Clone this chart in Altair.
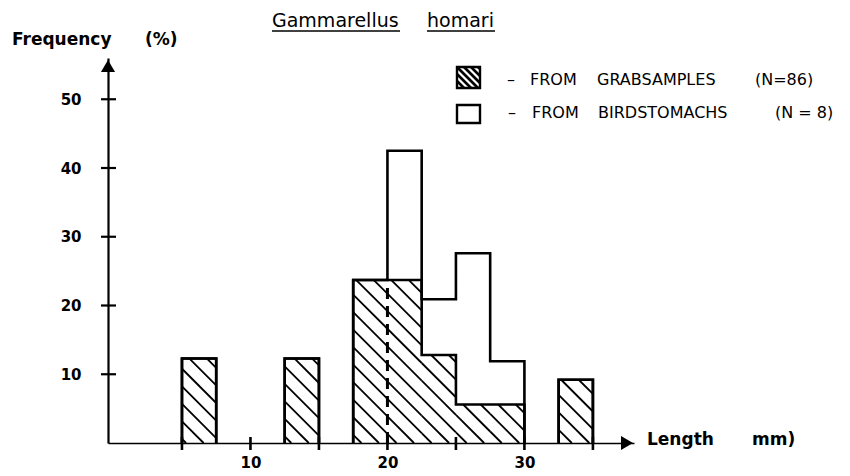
import altair as alt
import pandas as pd
import numpy as np

# ---------------- data ----------------
bin_start = [5.0, 7.5, 10.0, 12.5, 15.0, 17.5, 20.0, 22.5, 25.0, 27.5, 30.0, 32.5]
bin_width = 2.5
grab_pct = [12.3, 0, 0, 12.3, 0, 23.7, 23.7, 12.8, 5.6, 5.6, 0, 9.2]   # from grab samples (N=86)
bird_pct = [0, 0, 0, 0, 0, 0, 42.5, 20.9, 27.6, 11.9, 0, 0]            # from bird stomachs (N=8)
x_tick_values = [5, 10, 15, 20, 25, 30, 35]
x_label_values = [10, 20, 30]
y_tick_values = [10, 20, 30, 40, 50]
dashed_at = 20.0
title_words = ["Gammarellus", "homari"]
y_title_words = ["Frequency", "(%)"]
x_title_words = ["Length", "mm)"]
legend_row1 = ["\u2013", "FROM", "GRABSAMPLES", "(N=86)"]
legend_row2 = ["\u2013", "FROM", "BIRDSTOMACHS", "(N = 8)"]

# ---------------- layout ----------------
W, H = 526, 385
XDOM = [-0.4, 38.0]
YDOM = [0, 56]
ppx = W / (XDOM[1] - XDOM[0])
ppy = H / (YDOM[1] - YDOM[0])
k = ppx / ppy
FONT = "DejaVu Sans"

xs = alt.Scale(domain=XDOM, nice=False, zero=False)
ys = alt.Scale(domain=YDOM, nice=False, zero=False)
xax = alt.Axis(values=x_label_values, ticks=False, labelPadding=12, labelFont=FONT,
               labelFontWeight="bold", labelFontSize=15, labelColor="black",
               domainColor="black", domainWidth=1.6, grid=False, title=None)
yax = alt.Axis(values=y_tick_values, ticks=False, labelPadding=27, labelFont=FONT,
               labelFontWeight="bold", labelFontSize=15, labelColor="black",
               domainColor="black", domainWidth=2.2, grid=False, title=None)


def px_to_x(p):
    return XDOM[0] + p / ppx


def px_to_y(p):
    return YDOM[1] - p / ppy


# outlines as step lines, one group per contiguous run of non-empty bins
def step_rows(vals, name):
    rows = []
    run = []
    runs = []
    for j, v in enumerate(vals):
        if v > 0:
            run.append(j)
        elif run:
            runs.append(run)
            run = []
    if run:
        runs.append(run)
    for r_i, r in enumerate(runs):
        g = f"{name}{r_i}"
        o = 0
        rows.append({"s": g, "o": o, "x": bin_start[r[0]], "v": 0.0})
        for j in r:
            o += 1
            rows.append({"s": g, "o": o, "x": bin_start[j], "v": vals[j]})
        rows.append({"s": g, "o": o + 1, "x": bin_start[r[-1]] + bin_width, "v": 0.0})
    return rows


union = [max(a, b) for a, b in zip(grab_pct, bird_pct)]
outline_df = pd.DataFrame(step_rows(union, "all") + step_rows(grab_pct, "grab"))

# hatch segments clipped to the grab bars
spacing = 1.28
c_grid = 21.94 + spacing * np.arange(-25, 20)
segs = []
for x0, h in zip(bin_start, grab_pct):
    if h <= 0:
        continue
    x1 = x0 + bin_width
    for c in c_grid:
        ylo = max(0.0, k * (c - x1))
        yhi = min(h, k * (c - x0))
        if yhi - ylo > 1e-6:
            segs.append({"xa": c - ylo / k, "ya": ylo, "xb": c - yhi / k, "yb": yhi})
hatch_df = pd.DataFrame(segs)

outline = alt.Chart(outline_df).mark_line(interpolate="step-after", color="black",
                                          strokeWidth=2.6, strokeJoin="miter").encode(
    x=alt.X("x:Q", scale=xs, axis=xax),
    y=alt.Y("v:Q", scale=ys, axis=yax),
    detail="s:N",
    order="o:Q",
)

hatch = alt.Chart(hatch_df).mark_rule(color="black", strokeWidth=1.8).encode(
    x=alt.X("xa:Q", scale=xs, axis=xax), x2="xb:Q",
    y=alt.Y("ya:Q", scale=ys, axis=yax), y2="yb:Q",
)

dash_h = grab_pct[bin_start.index(dashed_at)]
dash = alt.Chart(pd.DataFrame({"x": [dashed_at], "y0": [0.0], "y1": [dash_h]})).mark_rule(
    color="black", strokeWidth=3, strokeDash=[11, 7]).encode(
    x=alt.X("x:Q", scale=xs, axis=xax),
    y=alt.Y("y0:Q", scale=ys, axis=yax), y2="y1:Q",
)

xticks = alt.Chart(pd.DataFrame({"v": x_tick_values})).mark_rule(
    color="black", strokeWidth=2.6).encode(
    x=alt.X("v:Q", scale=xs, axis=xax), y=alt.value(H - 6), y2=alt.value(H + 7))

yticks = alt.Chart(pd.DataFrame({"v": y_tick_values})).mark_rule(
    color="black", strokeWidth=2.2).encode(
    y=alt.Y("v:Q", scale=ys, axis=yax), x=alt.value(-7), x2=alt.value(8))

one = pd.DataFrame({"a": [0]})
arrow_x = alt.Chart(one).mark_point(shape="triangle-right", filled=True, size=190,
                                    color="black", opacity=1).encode(
    x=alt.value(W - 7), y=alt.value(H))
arrow_y = alt.Chart(one).mark_point(shape="triangle-up", filled=True, size=200,
                                    color="black", opacity=1).encode(
    x=alt.value(0), y=alt.value(8))


def label(text, x, y, size, weight="normal"):
    return alt.Chart(pd.DataFrame({"t": [text]})).mark_text(
        align="left", baseline="middle", font=FONT, fontSize=size,
        fontWeight=weight, color="black").encode(
        text="t:N", x=alt.value(x), y=alt.value(y))


def hrule(x1, x2, y, w=1.6):
    return alt.Chart(one).mark_rule(color="black", strokeWidth=w).encode(
        x=alt.value(x1), x2=alt.value(x2), y=alt.value(y))


texts = [
    label(title_words[0], 164, -37, 19),
    label(title_words[1], 319, -37, 19),
    hrule(164, 292, -27),
    hrule(319, 387, -27),
    label(y_title_words[0], -96, -18, 17, "bold"),
    label(y_title_words[1], 37, -18, 17, "bold"),
    label(x_title_words[0], 539, H - 3, 17, "bold"),
    label(x_title_words[1], 644, H - 3, 17, "bold"),
]
row1_x = [399, 422, 489, 647]
row2_x = [400, 424, 490, 667]
for w_, xx in zip(legend_row1, row1_x):
    texts.append(label(w_, xx, 21.5, 16))
for w_, xx in zip(legend_row2, row2_x):
    texts.append(label(w_, xx, 55, 16))

# legend boxes (pixel geometry converted to data coords)
box1 = (349, 372, 9, 30)
box2 = (349, 372, 47, 65)
boxes_df = pd.DataFrame([
    {"xa": px_to_x(b[0]), "xb": px_to_x(b[1]), "ya": px_to_y(b[2]), "yb": px_to_y(b[3])}
    for b in (box1, box2)])
boxes = alt.Chart(boxes_df).mark_rect(fill="white", stroke="black", strokeWidth=2.4).encode(
    x=alt.X("xa:Q", scale=xs, axis=xax), x2="xb:Q",
    y=alt.Y("ya:Q", scale=ys, axis=yax), y2="yb:Q")

lsegs = []
bx0, bx1, by0, by1 = box1
for c in np.arange(-30, 30, 7.0):
    lo = max(by0, bx0 - (bx0 + c))
    hi = min(by1, bx1 - (bx0 + c))
    if hi - lo > 0.5:
        lsegs.append({"xa": px_to_x(lo + bx0 + c), "ya": px_to_y(lo),
                      "xb": px_to_x(hi + bx0 + c), "yb": px_to_y(hi)})
lhatch = alt.Chart(pd.DataFrame(lsegs)).mark_rule(color="black", strokeWidth=2.6).encode(
    x=alt.X("xa:Q", scale=xs, axis=xax), x2="xb:Q",
    y=alt.Y("ya:Q", scale=ys, axis=yax), y2="yb:Q")

chart = alt.layer(outline, hatch, dash, xticks, yticks, arrow_x, arrow_y,
                  boxes, lhatch, *texts).properties(
    width=W, height=H,
    autosize=alt.AutoSizeParams(type="none"),
    padding={"left": 100, "top": 50, "right": 208, "bottom": 31},
    background="white",
).configure_view(stroke=None)

chart.save("out.html", embed_options={"renderer": "svg", "actions": False})
